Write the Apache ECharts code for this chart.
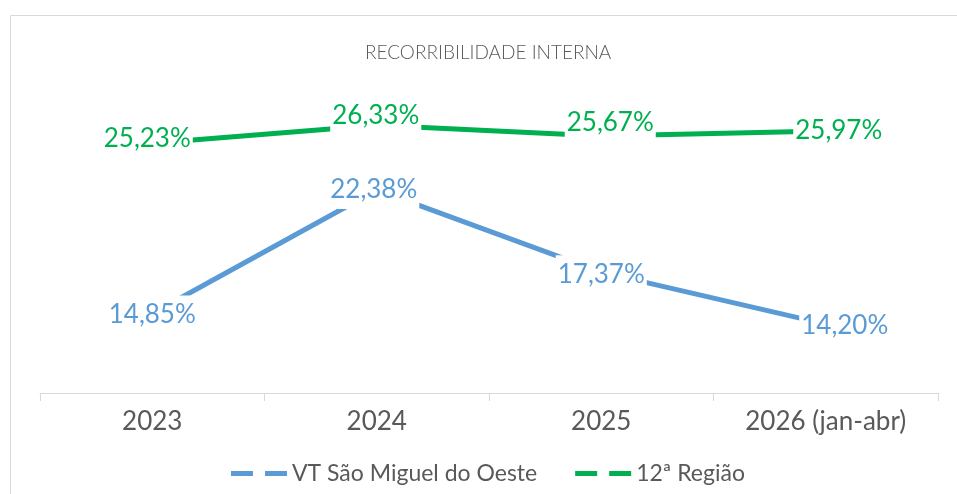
<!DOCTYPE html>
<html>
<head>
<meta charset="utf-8">
<script src="https://cdn.jsdelivr.net/npm/echarts@6/dist/echarts.min.js"></script>
<style>
  html, body { margin: 0; padding: 0; background: #fff; }
  #chart { width: 957px; height: 494px; }
</style>
</head>
<body>
<div id="chart"></div>
<script>
// chart data
var categories = ['2023', '2024', '2025', '2026 (jan-abr)'];
var vtSaoMiguel = [14.85, 22.38, 17.37, 14.20];
var regiao12 = [25.23, 26.33, 25.67, 25.97];
var seriesNames = ['VT São Miguel do Oeste', '12ª Região'];

// label nudges, like the excel labels that were dragged a bit
var vtOffsets = [[0, 1], [-3, 0], [0, 2], [19, 1]];
var regOffsets = [[-5, -5], [-1, -10], [9, -13], [13, 0]];
// the 2025 green label box hangs down over the line
var regPads = [null, null, [6, 2, 14, 2], null];

function fmt(v) {
  return v.toFixed(2).replace('.', ',') + '%';
}

function buildData(values, offsets, pads) {
  return values.map(function (v, i) {
    var lbl = { offset: offsets[i] };
    if (pads && pads[i]) lbl.padding = pads[i];
    return { value: v, label: lbl };
  });
}

var chart = echarts.init(document.getElementById('chart'));
var font = 'Lato';

function lineSeries(name, values, offsets, pads, color) {
  return {
    name: name,
    type: 'line',
    data: buildData(values, offsets, pads),
    symbol: 'circle',
    symbolSize: 0,
    showSymbol: true,
    lineStyle: { color: color, width: 5 },
    itemStyle: { color: color },
    label: {
      show: true,
      position: 'inside',
      formatter: function (p) { return fmt(p.value); },
      fontFamily: font,
      fontSize: 26,
      color: color,
      backgroundColor: '#ffffff',
      padding: [6, 2]
    }
  };
}

var option = {
  backgroundColor: '#ffffff',
  animation: false,
  title: {
    text: 'RECORRIBILIDADE INTERNA',
    left: 360,
    top: 38,
    textStyle: { fontFamily: font, fontSize: 19, fontWeight: 300, color: '#595959' }
  },
  legend: {
    left: 226,
    top: 457,
    itemWidth: 56,
    itemHeight: 5,
    itemGap: 38,
    icon: 'path://M0,0 h22 v5 h-22 Z M34,0 h22 v5 h-22 Z',
    textStyle: { fontFamily: font, fontSize: 23, color: '#595959' },
    data: seriesNames
  },
  grid: { left: 40, right: 19, top: 65, bottom: 101 },
  xAxis: {
    type: 'category',
    data: categories,
    boundaryGap: true,
    axisLine: { lineStyle: { color: '#d9d9d9', width: 1 } },
    axisTick: { show: true, length: 8, lineStyle: { color: '#d9d9d9' } },
    axisLabel: { margin: 16, fontFamily: font, fontSize: 26, color: '#595959' }
  },
  yAxis: {
    type: 'value',
    min: 10,
    max: 30,
    show: false
  },
  series: [
    lineSeries(seriesNames[0], vtSaoMiguel, vtOffsets, null, '#5b9bd5'),
    lineSeries(seriesNames[1], regiao12, regOffsets, regPads, '#00b050')
  ],
  graphic: [
    {
      type: 'rect',
      silent: true,
      shape: { x: 10.5, y: 15.5, width: 980, height: 520 },
      style: { fill: null, stroke: '#d9d9d9', lineWidth: 1 }
    }
  ]
};

chart.setOption(option);
</script>
</body>
</html>
